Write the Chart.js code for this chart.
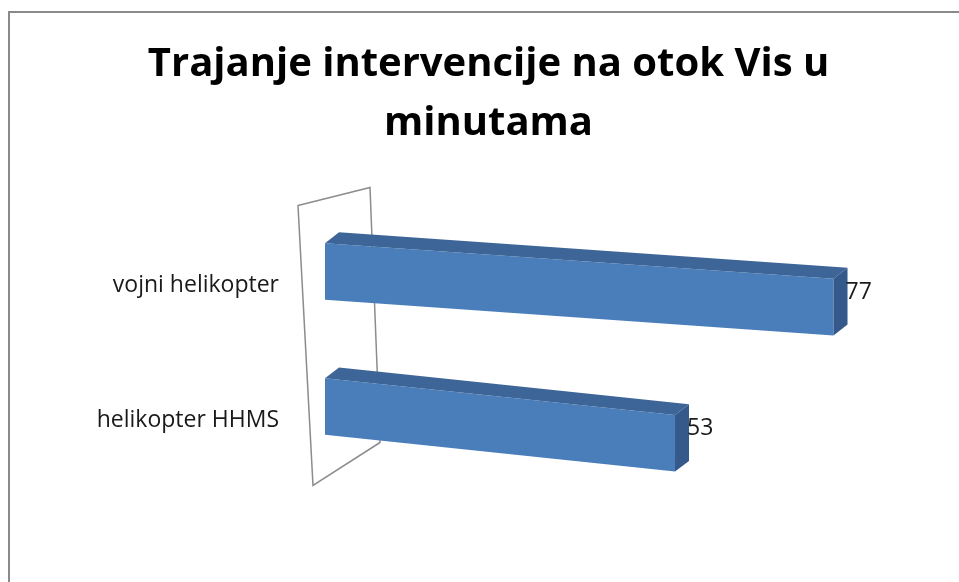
<!DOCTYPE html>
<html>
<head>
<meta charset="utf-8">
<script src="https://cdn.jsdelivr.net/npm/chart.js@4.4.0/dist/chart.umd.min.js"></script>
<style>
  html, body { margin: 0; padding: 0; background: #fff; overflow: hidden; }
  .frame { position: absolute; left: 8px; top: 11px; width: 2000px; height: 2000px;
           border-top: 2px solid #8a8a8a; border-left: 2px solid #8a8a8a; }
  .wrap { position: absolute; left: 0; top: 0; }
</style>
</head>
<body>
<div class="frame"></div>
<div class="wrap"><canvas id="chart" width="959" height="582"></canvas></div>
<script>
const categories = ['vojni helikopter', 'helikopter HHMS'];
const minutes = [77, 53];
const titleLines = ['Trajanje intervencije na otok Vis u', 'minutama'];

// fake 3D look: bars tilt more the lower they sit, plus box depth
const skewTop = 0.07;
const skewBottom = 0.105;
const lift = -13.5;
const depth = { x: 14, y: -12 };

function tiltOf(chart, y) {
    const a = chart.chartArea;
    const f = (y - a.top) / (a.bottom - a.top);
    return skewTop + (skewBottom - skewTop) * (f - 0.25) / 0.5;
}

function drawFaces(ctx, bar) {
    const { x, y, base, height } = bar.getProps(['x', 'y', 'base', 'height'], true);
    const t = y - height / 2, b = y + height / 2;
    ctx.beginPath();
    ctx.moveTo(base, t);
    ctx.lineTo(x, t);
    ctx.lineTo(x + depth.x, t + depth.y);
    ctx.lineTo(base + depth.x, t + depth.y);
    ctx.closePath();
    ctx.fillStyle = '#3d6597';
    ctx.fill();
    ctx.beginPath();
    ctx.moveTo(x, t);
    ctx.lineTo(x + depth.x, t + depth.y);
    ctx.lineTo(x + depth.x, b + depth.y);
    ctx.lineTo(x, b);
    ctx.closePath();
    ctx.fillStyle = '#34598a';
    ctx.fill();
}

const fake3d = {
    id: 'fake3d',
    beforeDatasetsDraw(chart) {
        const ctx = chart.ctx, a = chart.chartArea;
        const x0 = chart.scales.x.getPixelForValue(0);
        // back wall behind the bars
        ctx.save();
        ctx.beginPath();
        ctx.moveTo(x0 - 27, a.top - 12);
        ctx.lineTo(x0 + 45, a.top - 30);
        ctx.lineTo(x0 + 55, a.bottom - 45);
        ctx.lineTo(x0 - 12, a.bottom - 2);
        ctx.closePath();
        ctx.fillStyle = '#fff';
        ctx.fill();
        ctx.strokeStyle = '#8c8c8c';
        ctx.lineWidth = 1.5;
        ctx.stroke();
        ctx.restore();

        // each bar gets its own tilt
        chart.getDatasetMeta(0).data.forEach(bar => {
            if (bar._tilted) return;
            const orig = bar.draw.bind(bar);
            bar.draw = function (c, area) {
                const k = tiltOf(chart, this.y);
                c.save();
                c.transform(1, k, 0, 1, 0, lift - k * x0);
                orig(c, area);
                drawFaces(c, this);
                c.restore();
            };
            bar._tilted = true;
        });
    },
    afterDatasetsDraw(chart) {
        const ctx = chart.ctx;
        const x0 = chart.scales.x.getPixelForValue(0);
        // value labels next to the bar ends
        ctx.save();
        ctx.font = '23px "Open Sans"';
        ctx.fillStyle = '#1a1a1a';
        ctx.textBaseline = 'middle';
        ctx.textAlign = 'left';
        chart.getDatasetMeta(0).data.forEach((bar, i) => {
            const ly = bar.y + lift + tiltOf(chart, bar.y) * (bar.x - x0) - 15;
            ctx.fillText(String(chart.data.datasets[0].data[i]), bar.x + 12, ly);
        });
        ctx.restore();
    }
};

let ctx = document.getElementById('chart').getContext('2d');
let chart = new Chart(ctx, {
    type: 'bar',
    data: {
        labels: categories,
        datasets: [{
            label: 'minute',
            data: minutes,
            backgroundColor: '#4a7ebb',
            borderWidth: 0,
            barPercentage: 0.42,
            categoryPercentage: 1,
            clip: false
        }]
    },
    options: {
        indexAxis: 'y',
        responsive: false,
        animation: false,
        devicePixelRatio: 1,
        layout: {
            padding: { left: 18, top: 0, right: 0, bottom: 94.5 }
        },
        plugins: {
            legend: { display: false },
            tooltip: { enabled: false },
            title: {
                display: true,
                text: titleLines,
                color: '#000',
                font: {
                    family: "'Open Sans', sans-serif",
                    size: 40,
                    weight: 'bold',
                    lineHeight: 59 / 40
                },
                padding: { top: 35.5, bottom: 64 }
            }
        },
        scales: {
            x: {
                display: false,
                min: 0,
                max: 96
            },
            y: {
                grid: { display: false, drawTicks: false },
                border: { display: false },
                ticks: {
                    color: '#1a1a1a',
                    font: { family: "'Open Sans', sans-serif", size: 23 },
                    padding: 46
                },
                afterFit(scale) {
                    scale.width = 307;
                }
            }
        }
    },
    plugins: [fake3d]
});
</script>
</body>
</html>
